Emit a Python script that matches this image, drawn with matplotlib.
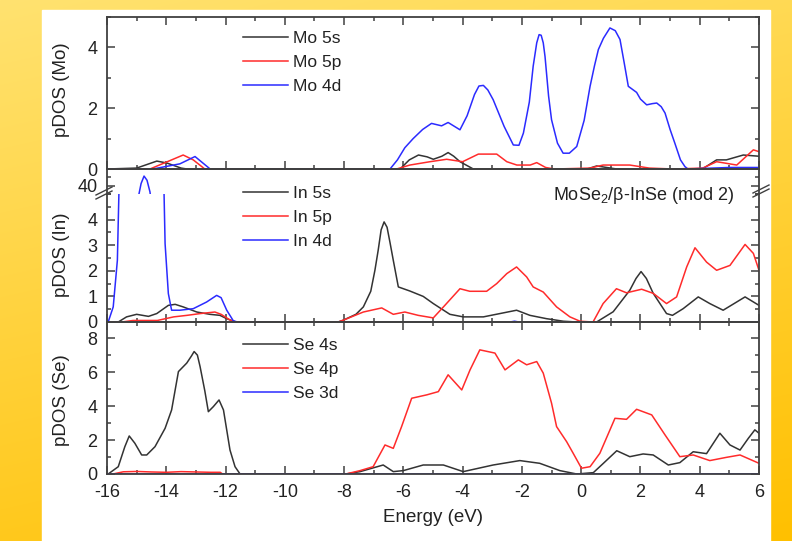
import numpy as np
import matplotlib
matplotlib.use("Agg")
import matplotlib.pyplot as plt
from matplotlib.lines import Line2D
from matplotlib.patches import Rectangle
from matplotlib.ticker import MultipleLocator

plt.rcParams['font.family'] = ['Liberation Sans', 'DejaVu Sans']
plt.rcParams['mathtext.fontset'] = 'custom'
plt.rcParams['mathtext.rm'] = 'Liberation Sans'
plt.rcParams['axes.unicode_minus'] = False
plt.rcParams['lines.solid_joinstyle'] = 'round'

# ---- data (energy in eV, pDOS) ----
mo_5s_e = [-16, -15.0, -14.32, -13.99, -13.5, -13.3, -6.11, -5.8, -5.49, -5.2, -4.99, -4.7, -4.49,
           -4.3, -4.09, -3.64, 0.2, 0.52, 1.2, 3.9, 4.12, 4.57, 4.9, 5.47, 6.0]
mo_5s = [0, 0.03, 0.26, 0.2, 0.03, 0, 0, 0.3, 0.46, 0.4, 0.32, 0.42, 0.54,
         0.42, 0.24, 0, 0, 0.1, 0, 0, 0.02, 0.3, 0.3, 0.46, 0.42]

mo_5p_e = [-16, -14.55, -13.43, -13.09, -12.7, -6.23, -5.78, -5.1, -4.54, -4.0, -3.47, -2.85,
           -2.51, -2.17, -1.72, -1.5, -1.2, -0.9, 0.3, 0.74, 1.64, 2.3, 3.1, 4.1, 4.57, 5.25, 5.81, 6.0]
mo_5p = [0, 0, 0.46, 0.3, 0, 0, 0.13, 0.24, 0.32, 0.24, 0.49, 0.49,
         0.24, 0.13, 0.13, 0.21, 0.05, 0, 0.03, 0.13, 0.13, 0.03, 0, 0.03, 0.24, 0.13, 0.63, 0.57]

mo_4d_e = [-16, -14.45, -13.54, -13.03, -12.52, -6.45, -6.2, -5.95, -5.67, -5.35, -5.05, -4.71,
           -4.49, -4.09, -3.85, -3.6, -3.45, -3.3, -3.15, -2.97, -2.6, -2.29, -2.1, -1.95, -1.75,
           -1.62, -1.5, -1.42, -1.35, -1.28, -1.22, -1.1, -1.0, -0.8, -0.61, -0.4, -0.15, 0.1,
           0.30, 0.45, 0.58, 0.75, 0.97, 1.15, 1.31, 1.45, 1.59, 1.87, 2.0, 2.21, 2.4, 2.55, 2.7,
           2.83, 3.0, 3.16, 3.35, 3.5, 3.6, 5.0, 6.0]
mo_4d = [0, 0, 0.17, 0.41, 0, 0, 0.3, 0.7, 1.0, 1.3, 1.5, 1.42,
         1.53, 1.29, 1.75, 2.45, 2.73, 2.75, 2.6, 2.28, 1.4, 0.79, 0.78, 1.18, 2.2,
         3.38, 4.15, 4.42, 4.4, 4.15, 3.7, 2.4, 1.62, 0.85, 0.52, 0.52, 0.74, 1.6,
         2.72, 3.4, 3.93, 4.3, 4.64, 4.55, 4.26, 3.5, 2.72, 2.52, 2.3, 2.11, 2.15, 2.17, 2.05,
         1.84, 1.3, 0.85, 0.3, 0.08, 0, 0.05, 0.05]

in_5s_e = [-16, -15.62, -15.34, -15.0, -14.6, -14.32, -13.93, -13.7, -13.43, -12.97, -12.53, -12.19,
           -11.96, -11.66, -8.2, -8.03, -7.6, -7.35, -7.1, -6.96, -6.85, -6.75, -6.65, -6.55, -6.45,
           -6.34, -6.17, -5.78, -5.33, -4.99, -4.43, -3.98, -3.3, -2.74, -2.18, -1.73, -1.17, -0.6,
           -0.15, 0.52, 1.08, 1.64, 1.85, 2.02, 2.2, 2.43, 2.88, 3.08, 3.44, 3.95, 4.34, 4.79, 5.53, 6.0]
in_5s = [0, 0, 0.2, 0.3, 0.22, 0.33, 0.65, 0.69, 0.59, 0.39, 0.3, 0.26,
         0.13, 0, 0, 0.07, 0.3, 0.59, 1.2, 2.02, 2.8, 3.6, 3.91, 3.7, 3.1,
         2.41, 1.37, 1.21, 1.0, 0.72, 0.3, 0.2, 0.2, 0.33, 0.46, 0.26, 0.13, 0.03,
         0, 0, 0.4, 1.24, 1.7, 1.97, 1.7, 1.12, 0.33, 0.26, 0.52, 0.98, 0.72, 0.46, 0.98, 0.65]

in_5p_e = [-16, -15.5, -15.12, -14.3, -13.75, -13.3, -12.85, -12.36, -12.15, -11.85, -11.66, -8.2,
           -8.03, -7.35, -6.73, -6.34, -5.95, -5.5, -4.99, -4.6, -4.09, -3.76, -3.19, -2.85, -2.51,
           -2.18, -1.84, -1.62, -1.28, -0.83, -0.38, -0.04, 0.4, 0.74, 1.19, 1.53, 2.04, 2.43, 2.88,
           3.22, 3.56, 3.84, 4.23, 4.57, 5.02, 5.53, 5.81, 6.0]
in_5p = [0, 0, 0.06, 0.06, 0.2, 0.26, 0.33, 0.39, 0.3, 0.08, 0, 0,
         0.07, 0.39, 0.55, 0.3, 0.39, 0.26, 0.16, 0.65, 1.3, 1.2, 1.2, 1.5, 1.89,
         2.15, 1.76, 1.37, 1.17, 0.59, 0.2, 0.03, 0, 0.72, 1.3, 1.14, 1.28, 1.12, 0.72,
         0.98, 2.15, 2.9, 2.34, 2.02, 2.21, 3.03, 2.68, 2.02]

in_4d_e = [-16, -15.96, -15.79, -15.65, -15.5, -15.2, -14.95, -14.85, -14.75, -14.65, -14.55, -14.4,
           -14.2, -14.04, -13.93, -13.82, -13.54, -13.09, -12.64, -12.3, -12.15, -11.96, -11.74, -11.6,
           -2.4, -2.25, -2.1, 6.0]
in_4d = [0, 0, 0.59, 2.41, 10, 28, 37, 40.5, 42.3, 41.3, 38.5, 30,
         12, 3.06, 1.11, 0.46, 0.46, 0.52, 0.78, 1.04, 0.95, 0.46, 0.05, 0,
         0, 0.03, 0, 0]

se_4s_e = [-16, -15.96, -15.62, -15.4, -15.25, -15.06, -14.83, -14.66, -14.38, -14.04, -13.82, -13.59,
           -13.31, -13.15, -13.06, -12.95, -12.86, -12.7, -12.58, -12.41, -12.22, -12.07, -11.85,
           -11.68, -11.51, -7.94, -7.46, -6.68, -6.34, -6.0, -5.33, -4.65, -3.98, -2.97, -2.07, -1.4,
           -0.72, -0.15, 0.41, 0.75, 1.2, 1.64, 2.09, 2.43, 2.94, 3.33, 3.78, 4.23, 4.68, 5.02, 5.36,
           5.64, 5.86, 6.0]
se_4s = [0, 0, 0.43, 1.6, 2.24, 1.81, 1.12, 1.12, 1.61, 2.69, 3.77, 6.03,
         6.53, 6.95, 7.21, 7.0, 6.33, 4.9, 3.67, 3.97, 4.36, 3.77, 1.41,
         0.43, 0, 0, 0.14, 0.53, 0.14, 0.2, 0.53, 0.53, 0.14, 0.53, 0.79, 0.63,
         0.2, 0, 0.08, 0.63, 1.37, 1.02, 1.18, 1.12, 0.53, 0.67, 1.31, 1.2, 2.4, 1.71, 1.41,
         2.1, 2.6, 2.4]

se_4p_e = [-16, -15.8, -15.45, -15.0, -14.5, -14.0, -13.5, -13.0, -12.5, -12.18, -12.1, -7.94,
           -7.46, -7.02, -6.62, -6.34, -6.06, -5.72, -5.21, -4.82, -4.49, -4.03, -3.75, -3.42,
           -2.91, -2.57, -2.12, -1.84, -1.5, -1.28, -1.0, -0.83, -0.49, -0.27, 0.01, 0.3, 0.63,
           1.14, 1.53, 1.87, 2.38, 2.83, 3.33, 3.78, 4.34, 4.9, 5.36, 6.0]
se_4p = [0, 0, 0.13, 0.15, 0.12, 0.1, 0.14, 0.12, 0.1, 0.1, 0, 0,
         0.2, 0.43, 1.71, 1.51, 2.79, 4.46, 4.66, 4.85, 5.84, 4.95, 6.13, 7.31,
         7.12, 6.13, 6.72, 6.43, 6.62, 5.94, 4.17, 2.79, 1.9, 1.22, 0.34, 0.43, 1.22,
         3.28, 3.22, 3.81, 3.48, 2.3, 1.02, 1.12, 0.79, 0.98, 1.12, 0.63]

se_3d_e = [-16, 6]
se_3d = [0, 0]

C_K, C_R, C_B = '#333333', '#ff2b2b', '#2b2bff'
SPINE = '#404040'
W, H = 792, 541

fig = plt.figure(figsize=(W / 100, H / 100), dpi=100)

# yellow gradient background with white card
bg = fig.add_axes([0, 0, 1, 1], zorder=-5)
yy, xx = np.mgrid[0:H, 0:W]
t = 0.75 * yy / H + 0.25 * xx / W
img = np.dstack([np.ones_like(t), (226 - 34 * t) / 255, (112 - 112 * t) / 255])
bg.imshow(img, extent=[0, 1, 0, 1], aspect='auto')
bg.add_patch(Rectangle((42 / W, 0), (770 - 42) / W, 1 - 10 / H, color='white'))
bg.set_xlim(0, 1)
bg.set_ylim(0, 1)
bg.axis('off')


def fy(y):
    return 1 - y / H


L, R = 107 / W, (759 - 107) / W
ax_mo = fig.add_axes([L, fy(169), R, 152 / H])
ax_in_hi = fig.add_axes([L, fy(194), R, 25 / H])
ax_in = fig.add_axes([L, fy(322), R, 128 / H])
ax_se = fig.add_axes([L, fy(474), R, 152 / H])

lw = 1.1
ax_mo.plot(mo_5s_e, mo_5s, color=C_K, lw=lw, label='Mo 5s')
ax_mo.plot(mo_5p_e, mo_5p, color=C_R, lw=lw, label='Mo 5p')
ax_mo.plot(mo_4d_e, mo_4d, color=C_B, lw=lw, label='Mo 4d')

for a in (ax_in, ax_in_hi):
    a.plot(in_5s_e, in_5s, color=C_K, lw=lw, label='In 5s')
    a.plot(in_5p_e, in_5p, color=C_R, lw=lw, label='In 5p')
    a.plot(in_4d_e, in_4d, color=C_B, lw=lw, label='In 4d')

ax_se.plot(se_4s_e, se_4s, color=C_K, lw=lw, label='Se 4s')
ax_se.plot(se_4p_e, se_4p, color=C_R, lw=lw, label='Se 4p')
ax_se.plot(se_3d_e, se_3d, color=C_B, lw=lw, label='Se 3d')

ax_mo.set_ylim(0, 5)
ax_in.set_ylim(0, 5)
ax_in_hi.set_ylim(38, 44)
ax_se.set_ylim(0, 8.95)

for a in (ax_mo, ax_in_hi, ax_in, ax_se):
    a.set_xlim(-16, 6)
    a.set_facecolor('none')
    a.xaxis.set_major_locator(MultipleLocator(2))
    a.xaxis.set_minor_locator(MultipleLocator(1))
    a.tick_params(which='both', direction='in', top=True, right=True, colors=SPINE,
                  labelcolor='#222222', labelsize=13, width=1.1)
    a.tick_params(which='major', length=6, pad=7)
    a.tick_params(which='minor', length=3)
    for s in a.spines.values():
        s.set_color(SPINE)
        s.set_linewidth(1.3)
    if a is not ax_se:
        a.tick_params(labelbottom=False)

ax_mo.yaxis.set_major_locator(MultipleLocator(2))
ax_mo.yaxis.set_minor_locator(MultipleLocator(1))
ax_in.yaxis.set_major_locator(MultipleLocator(1))
ax_in.yaxis.set_minor_locator(MultipleLocator(0.5))
ax_in.set_yticks([0, 1, 2, 3, 4])
ax_in_hi.set_yticks([40])
ax_in_hi.yaxis.set_minor_locator(MultipleLocator(2))
ax_se.yaxis.set_major_locator(MultipleLocator(2))
ax_se.yaxis.set_minor_locator(MultipleLocator(1))

ax_in_hi.spines['bottom'].set_visible(False)
ax_in_hi.tick_params(which='both', bottom=False, top=False)
ax_in.spines['top'].set_visible(False)
ax_in.tick_params(which='both', top=False)

# axis-break marks
for cx, cy in ((104, 193), (761, 191)):
    for d in (-2, 2):
        fig.add_artist(Line2D([(cx - 8) / W, (cx + 8) / W], [fy(cy + 4 + d), fy(cy - 4 + d)],
                              color=SPINE, lw=1.0))

ax_se.set_xlabel('Energy (eV)', fontsize=13.5, color='#222222', labelpad=6)
for lab, yc in (('pDOS (Mo)', 90), ('pDOS (In)', 255), ('pDOS (Se)', 400)):
    fig.text(61 / W, fy(yc), lab, rotation=90, ha='center', va='center', fontsize=13.5, color='#222222')

leg_kw = dict(loc='upper left', frameon=False, fontsize=12.5, handlelength=2.6,
              handletextpad=0.3, labelspacing=0.5, borderpad=0, borderaxespad=0,
              bbox_transform=fig.transFigure)
for a, ytop in ((ax_mo, 31), (ax_in, 186), (ax_se, 338)):
    leg = a.legend(bbox_to_anchor=(243 / W, fy(ytop)), **leg_kw)
    for tx in leg.get_texts():
        tx.set_color('#222222')

fig.text(734 / W, fy(195), r'MoSe$_\mathregular{2}$/β-InSe (mod 2)', ha='right', va='center',
         fontsize=13, color='#222222')

plt.savefig('out.png', dpi=100)
